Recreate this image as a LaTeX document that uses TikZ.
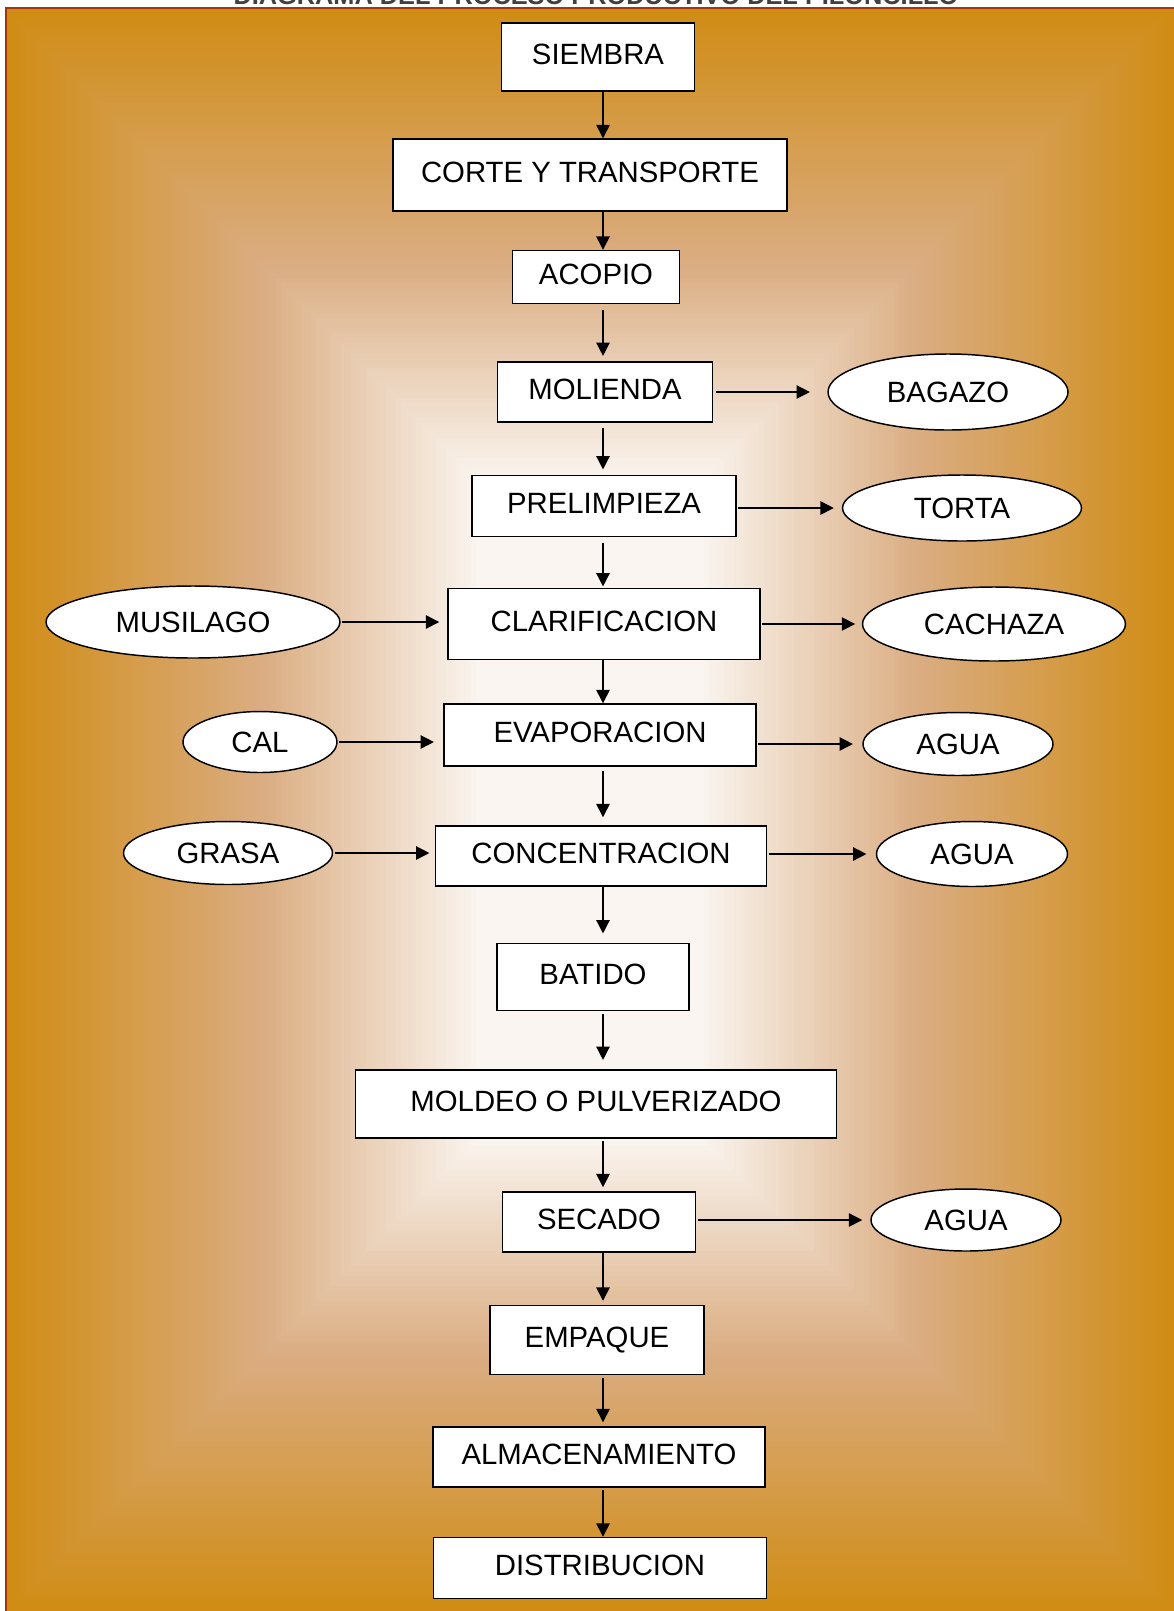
\documentclass[tikz,border=0pt]{standalone}
\usepackage{fontspec}
\setmainfont{Liberation Sans}
\usetikzlibrary{shapes.geometric,arrows.meta}

\definecolor{naranja}{HTML}{D08C14}
\definecolor{canela}{HTML}{DAAC80}
\definecolor{crema}{HTML}{FAF5F0}
\definecolor{borde}{HTML}{A3360A}

\tikzset{every picture/.style={line width=1.1pt}}
\tikzset{
  caja/.style 2 args={minimum width=#1*0.75pt, minimum height=#2*0.75pt},
  proceso/.style={draw, fill=white, rectangle, inner sep=0pt, text depth=4pt,
    font=\fontsize{22pt}{26pt}\selectfont},
  residuo/.style={draw, fill=white, ellipse, inner sep=0pt,
    font=\fontsize{22pt}{26pt}\selectfont},
  flecha/.style={-{Triangle[length=10pt,width=10pt]}}
}

\begin{document}
\begin{tikzpicture}[x=0.75pt,y=0.75pt,yscale=-1,xscale=1]

\useasboundingbox (0,0) rectangle (1174,1611);

% fondo degradado
\foreach \d in {0,5,...,250} {
  \pgfmathtruncatemacro\p{\d/2.5}
  \fill[canela!\p!naranja] (6+\d,8+\d) rectangle (1174-\d,1611-\d);
}
\foreach \d in {255,260,...,470} {
  \pgfmathtruncatemacro\p{(\d-250)/2.2}
  \fill[crema!\p!canela] (6+\d,8+\d) rectangle (1174-\d,1611-\d);
}
\draw[borde, line width=2pt] (6,1611) -- (6,8) -- (1174,8);

\node[anchor=base, text=black!75, font=\bfseries\fontsize{19pt}{22pt}\selectfont] (titulo) at (596,4) {DIAGRAMA DEL PROCESO PRODUCTIVO DEL PILONCILLO};

% proceso principal
\node[proceso, caja={193}{68}] (siembra) at (598,57) {SIEMBRA};
\node[proceso, caja={394}{72}] (corte) at (590,175) {CORTE Y TRANSPORTE};
\node[proceso, caja={167}{53}] (acopio) at (596,277) {ACOPIO};
\node[proceso, caja={215}{60}] (molienda) at (605,392) {MOLIENDA};
\node[proceso, caja={264}{61}] (prelimpieza) at (604,506) {PRELIMPIEZA};
\node[proceso, caja={312}{71}] (clarificacion) at (604,624) {CLARIFICACION};
\node[proceso, caja={312}{62}] (evaporacion) at (600,735) {EVAPORACION};
\node[proceso, caja={331}{60}] (concentracion) at (601,856) {CONCENTRACION};
\node[proceso, caja={192}{67}] (batido) at (593,977) {BATIDO};
\node[proceso, caja={481}{68}] (moldeo) at (596,1104) {MOLDEO O PULVERIZADO};
\node[proceso, caja={193}{60}] (secado) at (599,1222) {SECADO};
\node[proceso, caja={214}{69}] (empaque) at (597,1340) {EMPAQUE};
\node[proceso, caja={332}{60}] (almacenamiento) at (599,1457) {ALMACENAMIENTO};
\node[proceso, caja={333}{61}] (distribucion) at (600,1568) {DISTRIBUCION};

% entradas y salidas
\node[residuo, caja={240}{76}] (bagazo) at (948,392) {BAGAZO};
\node[residuo, caja={239}{66}] (torta) at (962,508) {TORTA};
\node[residuo, caja={294}{72}] (musilago) at (193,622) {MUSILAGO};
\node[residuo, caja={263}{74}] (cachaza) at (994,624) {CACHAZA};
\node[residuo, caja={154}{61}] (cal) at (260,742) {CAL};
\node[residuo, caja={190}{63}] (agua1) at (958,744) {AGUA};
\node[residuo, caja={209}{63}] (grasa) at (228,853) {GRASA};
\node[residuo, caja={191}{65}] (agua2) at (972,854) {AGUA};
\node[residuo, caja={190}{62}] (agua3) at (966,1220) {AGUA};

\coordinate (eje) at (603,0);

% flechas verticales
\draw[flecha] (siembra.south -| eje) -- (corte.north -| eje);
\draw[flecha] (corte.south -| eje) -- (acopio.north -| eje);
\draw[flecha, shorten <=4pt, shorten >=4pt] (acopio.south -| eje) -- (molienda.north -| eje);
\draw[flecha, shorten <=4pt, shorten >=4pt] (molienda.south -| eje) -- (prelimpieza.north -| eje);
\draw[flecha, shorten <=4pt, shorten >=1pt] (prelimpieza.south -| eje) -- (clarificacion.north -| eje);
\draw[flecha] (clarificacion.south -| eje) -- (evaporacion.north -| eje);
\draw[flecha, shorten <=3pt, shorten >=6pt] (evaporacion.south -| eje) -- (concentracion.north -| eje);
\draw[flecha, shorten >=7pt] (concentracion.south -| eje) -- (batido.north -| eje);
\draw[flecha, shorten <=2pt, shorten >=7pt] (batido.south -| eje) -- (moldeo.north -| eje);
\draw[flecha, shorten <=2pt, shorten >=3pt] (moldeo.south -| eje) -- (secado.north -| eje);
\draw[flecha, shorten >=3pt] (secado.south -| eje) -- (empaque.north -| eje);
\draw[flecha, shorten <=2pt, shorten >=3pt] (empaque.south -| eje) -- (almacenamiento.north -| eje);
\draw[flecha, shorten <=2pt] (almacenamiento.south -| eje) -- (distribucion.north -| eje);

% flechas laterales
\draw[flecha, shorten <=2pt, shorten >=13pt] (molienda.east |- bagazo.west) -- (bagazo.west);
\draw[flecha, shorten <=1pt, shorten >=6pt] (prelimpieza.east |- torta.west) -- (torta.west);
\draw[flecha, shorten <=1pt, shorten >=5pt] (clarificacion.east |- cachaza.west) -- (cachaza.west);
\draw[flecha, shorten <=1pt, shorten >=7pt] (evaporacion.east |- agua1.west) -- (agua1.west);
\draw[flecha, shorten <=1pt, shorten >=7pt] (concentracion.east |- agua2.west) -- (agua2.west);
\draw[flecha, shorten <=1pt, shorten >=6pt] (secado.east |- agua3.west) -- (agua3.west);
\draw[flecha, shorten <=1pt, shorten >=6pt] (musilago.east) -- (clarificacion.west |- musilago.east);
\draw[flecha, shorten <=1pt, shorten >=7pt] (cal.east) -- (evaporacion.west |- cal.east);
\draw[flecha, shorten <=1pt, shorten >=4pt] (grasa.east) -- (concentracion.west |- grasa.east);

\end{tikzpicture}
\end{document}
